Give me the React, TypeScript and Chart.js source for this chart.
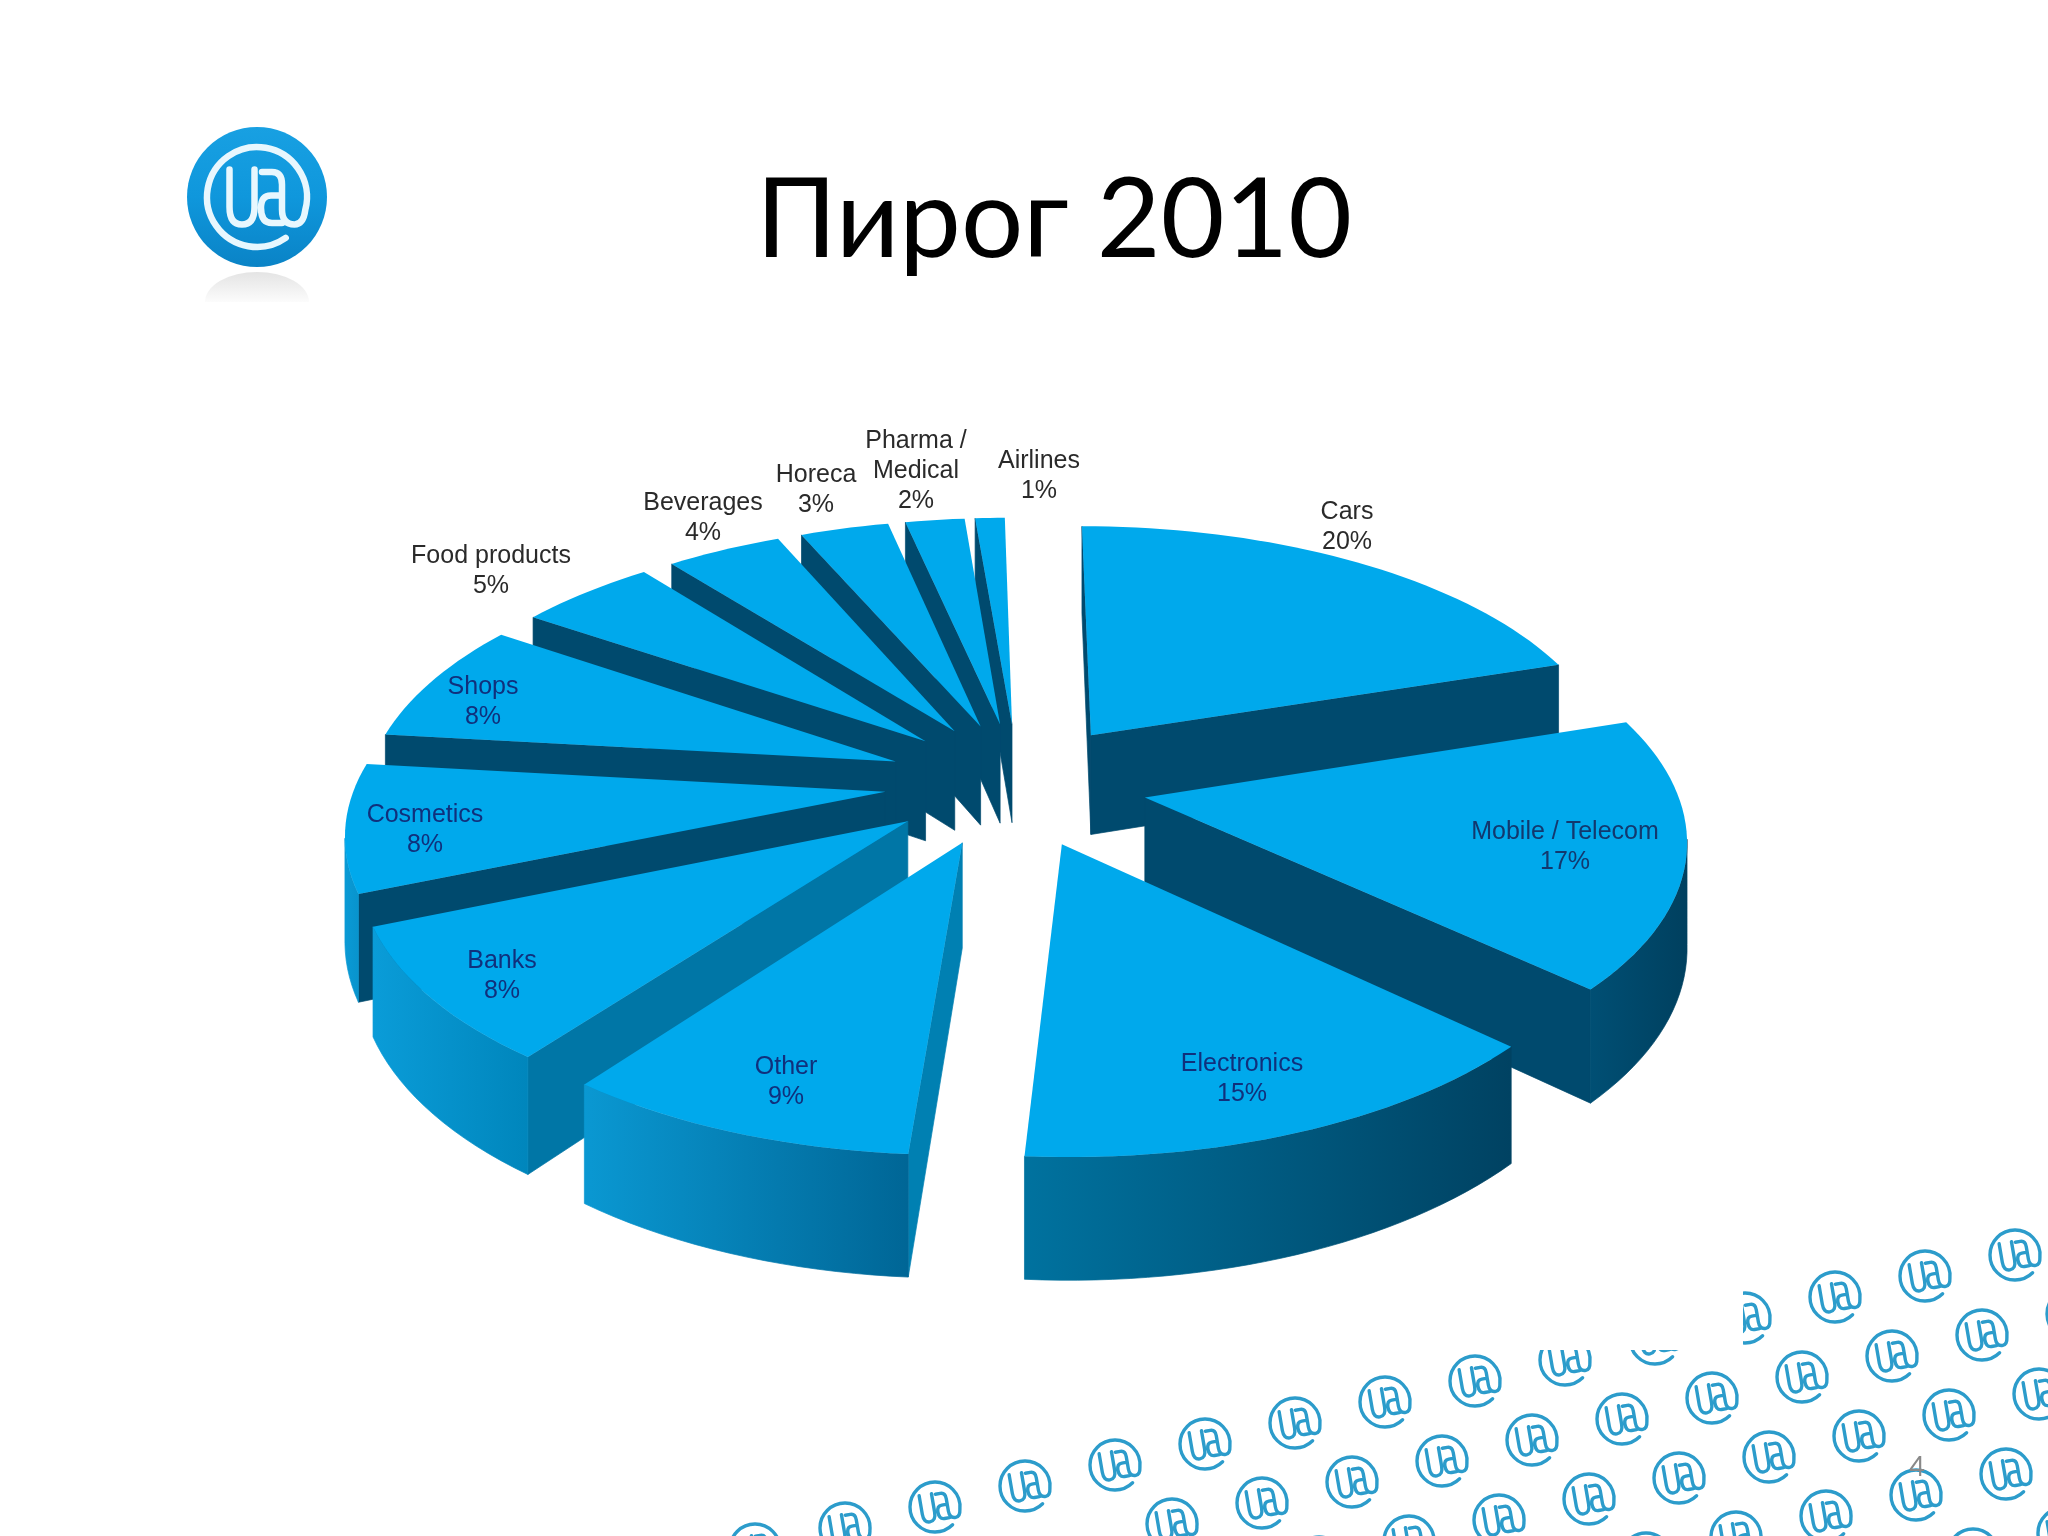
import React, { useEffect, useRef } from "react";
import { Chart, registerables } from "chart.js";

Chart.register(...registerables);

const categories = ["Cars", "Mobile / Telecom", "Electronics", "Other", "Banks", "Cosmetics", "Shops", "Food products", "Beverages", "Horeca", "Pharma /\nMedical", "Airlines"];
const shares = [20, 17, 15, 9, 8, 8, 8, 5, 4, 3, 2, 1];
const titleText = "Пирог 2010";
const slideNumber = "4";

// styling tables
const explode = [131, 131, 131, 131, 131, 131, 131, 131, 131, 131, 131, 131];
const radialWall = ["#004A6E", "#004A6E", "#004A6E", "#0080B2", "#0076A6", "#004A6E", "#004A6E", "#004A6E", "#004A6E", "#004A6E", "#004A6E", "#004A6E"];
const arcWallLeft = ["#004A6E", "#004F74", "#00729F", "#0A98D2", "#0A9CD8", "#0A9AD5", "#0A9AD5", "#004A6E", "#004A6E", "#004A6E", "#004A6E", "#004A6E"];
const arcWallRight = ["#004A6E", "#00405F", "#004262", "#006696", "#0086BC", "#0790C8", "#0790C8", "#004A6E", "#004A6E", "#004A6E", "#004A6E", "#004A6E"];
const labelAnchor: [number, number][] = [
  [1347, 512], [1565, 832], [1242, 1064], [786, 1067], [502, 961], [425, 815],
  [483, 687], [491, 556], [703, 503], [816, 475], [916, 441], [1039, 461],
];
const labelColor = ["#2A2A2A", "#12386E", "#10307C", "#10307C", "#10307C", "#10307C", "#10307C", "#2A2A2A", "#2A2A2A", "#2A2A2A", "#2A2A2A", "#2A2A2A"];

const CENTER_X = 1016;
const CENTER_Y = 784;
const RADIUS = 530;
const DEPTH = 102;
const TILT = 0.473;
const PERSPECTIVE = 0.000263;
const TOP_COLOR = "#00A9EC";

// the source's camera squeezes some edges a little away from their true angle
function warp(canvasAngle: number) {
  const fromTop = ((canvasAngle + Math.PI / 2) * 180) / Math.PI;
  const front = (fromTop - 200) / 40;
  const back = (fromTop - 322) / 40;
  const degrees = 3.5 * Math.exp(-front * front) + 2.4 * Math.exp(-back * back);
  return canvasAngle - (degrees * Math.PI) / 180;
}

function drawAtSign(ctx: CanvasRenderingContext2D, x: number, y: number, r: number, rot: number, color: string, lw: number) {
  ctx.save();
  ctx.translate(x, y);
  ctx.rotate(rot);
  ctx.scale(r, r);
  ctx.strokeStyle = color;
  ctx.lineWidth = lw / r;
  ctx.lineCap = "round";
  ctx.lineJoin = "round";
  ctx.beginPath();
  ctx.arc(0, 0, 1, (55 * Math.PI) / 180, (375 * Math.PI) / 180);
  ctx.quadraticCurveTo(0.93, 0.55, 0.75, 0.55);
  ctx.quadraticCurveTo(0.5, 0.55, 0.5, 0.25);
  ctx.lineTo(0.5, -0.25);
  ctx.quadraticCurveTo(0.5, -0.5, 0.3, -0.5);
  ctx.lineTo(0.1, -0.5);
  ctx.moveTo(0.5, -0.03);
  ctx.lineTo(0.28, -0.03);
  ctx.quadraticCurveTo(0.08, -0.03, 0.08, 0.22);
  ctx.quadraticCurveTo(0.08, 0.52, 0.3, 0.52);
  ctx.lineTo(0.5, 0.52);
  ctx.moveTo(-0.55, -0.55);
  ctx.lineTo(-0.55, 0.2);
  ctx.quadraticCurveTo(-0.55, 0.55, -0.3, 0.55);
  ctx.quadraticCurveTo(-0.05, 0.55, -0.05, 0.2);
  ctx.lineTo(-0.05, -0.55);
  ctx.stroke();
  ctx.restore();
}

function drawBackdrop(ctx: CanvasRenderingContext2D) {
  // big logo with its reflection
  const refl = ctx.createLinearGradient(0, 272, 0, 306);
  refl.addColorStop(0, "#E4E4E4");
  refl.addColorStop(1, "#FFFFFF");
  ctx.fillStyle = refl;
  ctx.beginPath();
  ctx.ellipse(257, 302, 52, 30, 0, Math.PI, 2 * Math.PI);
  ctx.fill();
  const disc = ctx.createLinearGradient(0, 127, 0, 267);
  disc.addColorStop(0, "#18A0E2");
  disc.addColorStop(0.5, "#0F97DC");
  disc.addColorStop(1, "#0A83C6");
  ctx.fillStyle = disc;
  ctx.beginPath();
  ctx.arc(257, 197, 70, 0, 2 * Math.PI);
  ctx.fill();
  drawAtSign(ctx, 257, 197, 50, 0, "#E8F7FE", 6.5);

  // pattern of small logos
  ctx.save();
  ctx.beginPath();
  ctx.rect(1743, 0, 305, 1536);
  ctx.rect(0, 1350, 1743, 186);
  ctx.clip();
  for (let row = 0; row < 5; row++) {
    for (let col = -2; col < 18; col++) {
      const x = 2015 - 33 * row - 90 * col;
      const y = 1255 + 80 * row + 21 * col;
      const limit = row === 0 ? 750 : row === 1 ? 1100 : 1290;
      if (x < limit) continue;
      drawAtSign(ctx, x, y, 25, -0.17, "#2C9CCB", 3.4);
    }
  }
  ctx.restore();
}

const pie3d = {
  id: "pie3d",
  beforeDatasetsDraw(chart: any) {
    const ctx: CanvasRenderingContext2D = chart.ctx;
    ctx.save();
    drawBackdrop(ctx);

    const arcs: any[] = chart.getDatasetMeta(0).data;
    const mid = (a: any) => (a.startAngle + a.endAngle) / 2;
    const order = arcs.map((_, i) => i).sort((a, b) => Math.sin(mid(arcs[a])) - Math.sin(mid(arcs[b])));

    for (const i of order) {
      const arc = arcs[i];
      const e = arc.options.offset;
      const m = mid(arc);
      const x0 = e * Math.cos(m);
      const y0 = e * Math.sin(m);
      const project = (X: number, Y: number, Z: number): [number, number] => {
        const w = 1 - PERSPECTIVE * Y;
        return [arc.x + X / w, arc.y + (TILT * Y + Z) / w];
      };
      const rim: [number, number][] = [];
      const steps = Math.max(4, Math.ceil((arc.endAngle - arc.startAngle) / 0.03));
      for (let s = 0; s <= steps; s++) {
        const a = warp(arc.startAngle + ((arc.endAngle - arc.startAngle) * s) / steps);
        rim.push([x0 + arc.outerRadius * Math.cos(a), y0 + arc.outerRadius * Math.sin(a)]);
      }
      // the side faces the viewer when it winds the right way on screen
      const faces = (p: [number, number], q: [number, number]) => {
        const a = project(p[0], p[1], 0);
        const b = project(q[0], q[1], 0);
        const d = project(p[0], p[1], DEPTH);
        return (b[0] - a[0]) * (d[1] - a[1]) - (b[1] - a[1]) * (d[0] - a[0]) < 0;
      };
      const wall = (run: [number, number][], fill: any) => {
        ctx.fillStyle = fill;
        ctx.strokeStyle = fill;
        ctx.lineWidth = 0.7;
        ctx.beginPath();
        run.forEach((p, n) => {
          const a = project(p[0], p[1], 0);
          if (n === 0) ctx.moveTo(a[0], a[1]);
          else ctx.lineTo(a[0], a[1]);
        });
        [...run].reverse().forEach((p) => {
          const a = project(p[0], p[1], DEPTH);
          ctx.lineTo(a[0], a[1]);
        });
        ctx.closePath();
        ctx.fill();
        ctx.stroke();
      };
      const apex: [number, number] = [x0, y0];
      if (faces(apex, rim[0])) wall([apex, rim[0]], radialWall[i]);
      if (faces(rim[rim.length - 1], apex)) wall([rim[rim.length - 1], apex], radialWall[i]);
      const xs = rim.map((p) => project(p[0], p[1], 0)[0]);
      const grad = ctx.createLinearGradient(Math.min(...xs), 0, Math.max(...xs), 0);
      grad.addColorStop(0, arcWallLeft[i]);
      grad.addColorStop(1, arcWallRight[i]);
      let run: [number, number][] = [];
      for (let s = 0; s < rim.length - 1; s++) {
        if (faces(rim[s], rim[s + 1])) {
          if (run.length === 0) run.push(rim[s]);
          run.push(rim[s + 1]);
        } else if (run.length) {
          wall(run, grad);
          run = [];
        }
      }
      if (run.length) wall(run, grad);

      ctx.fillStyle = arc.options.backgroundColor;
      ctx.beginPath();
      const ap = project(x0, y0, 0);
      ctx.moveTo(ap[0], ap[1]);
      for (const p of rim) {
        const q = project(p[0], p[1], 0);
        ctx.lineTo(q[0], q[1]);
      }
      ctx.closePath();
      ctx.fill();
    }
    ctx.restore();
    return false;
  },
  afterDraw(chart: any) {
    const ctx: CanvasRenderingContext2D = chart.ctx;
    ctx.save();
    ctx.textAlign = "center";
    ctx.textBaseline = "middle";
    ctx.font = "25px 'Liberation Sans', Arial, sans-serif";
    chart.data.labels.forEach((label: string, i: number) => {
      const lines = [...label.split("\n"), `${chart.data.datasets[0].data[i]}%`];
      ctx.fillStyle = labelColor[i];
      lines.forEach((line, n) => ctx.fillText(line, labelAnchor[i][0], labelAnchor[i][1] + n * 30));
    });
    ctx.fillStyle = "#000000";
    ctx.font = "110px Lato, 'Noto Sans', sans-serif";
    ctx.fillText(titleText, 1054, 222);
    ctx.fillStyle = "#898989";
    ctx.font = "27px Lato, 'Noto Sans', sans-serif";
    ctx.fillText(slideNumber, 1917, 1467);
    ctx.restore();
  },
};

export default function App() {
  const ref = useRef<HTMLCanvasElement>(null);
  useEffect(() => {
    const chart = new Chart(ref.current as HTMLCanvasElement, {
      type: "pie",
      data: {
        labels: categories,
        datasets: [{ data: shares, backgroundColor: TOP_COLOR, offset: explode, borderWidth: 0 }],
      },
      options: {
        animation: false,
        responsive: false,
        radius: RADIUS,
        layout: {
          padding: {
            left: Math.max(0, 2 * CENTER_X - 2048),
            right: Math.max(0, 2048 - 2 * CENTER_X),
            top: Math.max(0, 2 * CENTER_Y - 1536),
            bottom: Math.max(0, 1536 - 2 * CENTER_Y),
          },
        },
        plugins: { legend: { display: false }, tooltip: { enabled: false }, title: { display: false } },
      } as any,
      plugins: [pie3d],
    });
    return () => chart.destroy();
  }, []);
  return (
    <div style={{ position: "absolute", left: 0, top: 0, width: 2048, height: 1536, background: "#FFFFFF" }}>
      <canvas ref={ref} width={2048} height={1536} style={{ display: "block" }} />
    </div>
  );
}
